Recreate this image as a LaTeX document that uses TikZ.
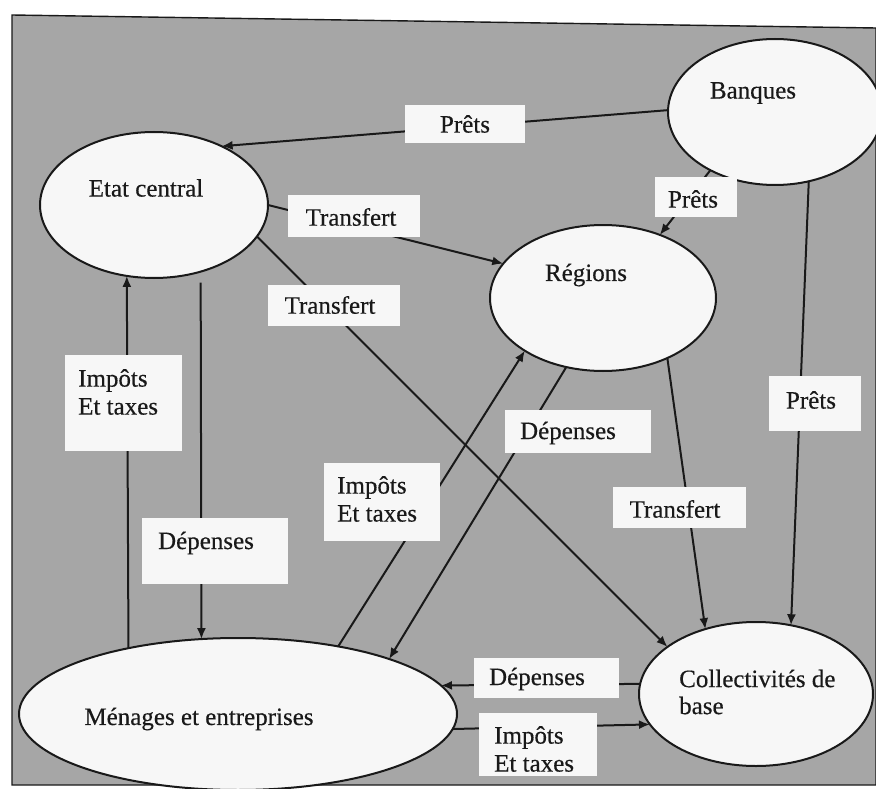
\documentclass[tikz,border=0pt]{standalone}
\usepackage{fontspec}
\setmainfont{Liberation Serif}
\newfontfamily\diagfont{Liberation Serif}[FakeBold=0.4]
\usetikzlibrary{arrows.meta,shapes.geometric}
\definecolor{bggray}{RGB}{166,166,166}
\definecolor{ink}{RGB}{25,25,25}
\definecolor{paper}{RGB}{247,247,247}
\begin{document}
\begin{tikzpicture}[x=1pt,y=-1pt,
  ell/.style={ellipse,draw=ink,line width=2pt,fill=paper,inner sep=0pt,outer sep=0pt},
  arr/.style={draw=ink,line width=2pt,-{Latex[length=11pt,width=9pt]}},
  lbox/.style={fill=paper},
  txt/.style={inner sep=0pt,font=\diagfont\fontsize{25}{28}\selectfont,text=ink,align=left}]
\useasboundingbox (0,0) rectangle (876,789);
\fill[white] (0,0) rectangle (876,789);
\draw[fill=bggray,draw=ink,line width=1.4pt] (12,15) -- (876,28) -- (876,785) -- (12,785) -- cycle;

% ellipses
\node[ell,minimum width=228pt,minimum height=146pt] (etat) at (154,205) {};
\node[ell,minimum width=214pt,minimum height=146pt] (ban) at (775,112) {};
\node[ell,minimum width=226pt,minimum height=146pt] (reg) at (603,298) {};
\node[ell,minimum width=234pt,minimum height=144pt] (col) at (756,694) {};
\node[ell,minimum width=438pt,minimum height=152pt] (men) at (238,714) {};

% connectors
\draw[arr] (ban.179) -- (etat.41);
\draw[arr] (etat.0) -- (reg.161);
\draw[arr] (etat.-17) -- (col.152);
\draw[arr] (ban.-138) -- (reg.48);
\draw[arr] (ban.-64) -- (col.63);
\draw[arr] (reg.-43) -- (col.128);
\draw[arr] (men.149) -- (etat.-111);
\draw[arr,shorten <=11pt] (etat.-55) -- (men.116);
\draw[arr] (men.34) -- (reg.-146);
\draw[arr] (reg.-118) -- (men.20);
\draw[arr] (col.175) -- (men.8);
\draw[arr] (men.-4) -- (col.-164);

% label boxes
\fill[lbox] (405,105) rectangle (525,143);
\fill[lbox] (288,195) rectangle (420,237);
\fill[lbox] (655,177) rectangle (737,217);
\fill[lbox] (268,285) rectangle (400,326);
\fill[lbox] (65,355) rectangle (182,451);
\fill[lbox] (769,376) rectangle (861,431);
\fill[lbox] (505,410) rectangle (651,453);
\fill[lbox] (324,463) rectangle (440,541);
\fill[lbox] (613,487) rectangle (746,528);
\fill[lbox] (142,518) rectangle (288,584);
\fill[lbox] (474,658) rectangle (619,698);
\fill[lbox] (479,713) rectangle (597,776);

% texts
\node[txt] (tBan) at (753,93) {Banques};
\node[txt] (tEtat) at (146,188) {Etat central};
\node[txt] (tReg) at (586,275) {Régions};
\node[txt,anchor=west,font=\diagfont\fontsize{25}{27}\selectfont] (tCol) at (679,692) {Collectivités de\\base};
\node[txt] (tMen) at (199,719) {Ménages et entreprises};

\node[txt] (lPret1) at (465,124) {Prêts};
\node[txt] (lTr1) at (351,217) {Transfert};
\node[txt] (lPret2) at (693,199) {Prêts};
\node[txt] (lTr2) at (330,305) {Transfert};
\node[txt,anchor=west] (lImp1) at (78,392) {Impôts\\Et taxes};
\node[txt] (lPret3) at (811,400) {Prêts};
\node[txt] (lDep1) at (568,433) {Dépenses};
\node[txt,anchor=west] (lImp2) at (337,499) {Impôts\\Et taxes};
\node[txt] (lTr3) at (675,509) {Transfert};
\node[txt] (lDep2) at (206,543) {Dépenses};
\node[txt] (lDep3) at (537,679) {Dépenses};
\node[txt,anchor=west] (lImp3) at (494,749) {Impôts\\Et taxes};
\end{tikzpicture}
\end{document}
